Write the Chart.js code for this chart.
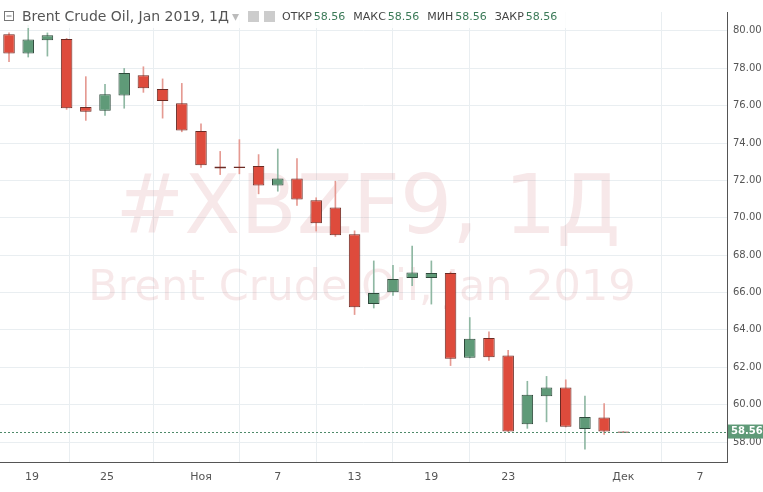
<!DOCTYPE html>
<html><head><meta charset="utf-8">
<script src="https://cdn.jsdelivr.net/npm/chart.js@4"></script>
<style>html,body{margin:0;padding:0;background:#fff}#w{width:763px;height:492px}</style>
</head><body><div id="w"><canvas id="c"></canvas></div>
<script>
const opens  = [79.82,78.79,79.50,79.57,75.93,75.72,76.54,77.62,76.89,76.13,74.64,72.74,72.74,72.77,71.73,72.10,70.94,70.55,69.12,65.38,66.01,66.77,66.77,67.04,62.51,63.57,62.63,58.95,60.45,60.92,58.70,59.31,58.56];
const highs  = [79.90,80.30,79.89,79.60,77.55,77.14,77.99,78.08,77.43,77.19,75.03,73.55,74.18,73.38,73.68,73.16,71.07,71.96,69.30,67.69,67.46,68.49,67.69,67.10,64.66,63.89,62.90,61.25,61.51,61.33,60.46,60.06,58.56];
const lows   = [78.35,78.60,78.65,75.80,75.21,75.47,75.86,76.71,75.33,74.60,72.69,72.31,72.35,71.28,71.42,70.66,69.29,69.00,64.82,65.17,65.85,66.36,65.38,62.09,62.50,62.37,58.56,58.73,59.08,58.80,57.61,58.41,58.56];
const closes = [78.79,79.54,79.77,75.86,75.67,76.61,77.75,76.93,76.25,74.67,72.81,72.63,72.66,71.73,72.10,70.98,69.70,69.06,65.21,65.97,66.72,67.07,67.04,62.46,63.52,62.54,58.56,60.53,60.92,58.82,59.34,58.56,58.56];
const tickIdx = [1.2,5.1,10,14,18,22,26,32,36];
const tickLabels = ['19','25','Ноя','7','13','19','23','Дек','7'];
const lastPrice = 58.56;

const RED='#de4b3c', GREEN='#5f9a78', BRED='#6b2b24', BGREEN='#2f4a3c';
const isUp = i => closes[i] > opens[i];
const bodies = opens.map((o,i)=>({x:i, y:[o, Math.abs(o-closes[i])<0.06 ? o-0.06 : closes[i]]}));
const wicks = opens.map((o,i)=>({x:i, y:[lows[i], highs[i]]}));

const overlay = {
  id:'overlay',
  beforeDatasetsDraw(ch){
    const ctx=ch.ctx;
    ctx.save();
    ctx.fillStyle='rgba(205,120,125,0.17)';
    ctx.textAlign='center'; ctx.textBaseline='middle';
    ctx.font='82px "DejaVu Sans", sans-serif';
    ctx.fillText('#XBZF9, 1Д', 368, 212);
    ctx.font='43px "DejaVu Sans", sans-serif';
    ctx.fillText('Brent Crude Oil, Jan 2019', 362, 289);
    ctx.restore();
  },
  afterDatasetsDraw(ch){
    const ctx=ch.ctx, a=ch.chartArea, y=ch.scales.y.getPixelForValue(lastPrice);
    ctx.save();
    ctx.strokeStyle='#4f8a6a'; ctx.setLineDash([2,2]); ctx.lineWidth=1;
    ctx.beginPath(); ctx.moveTo(a.left,Math.round(y)+0.5); ctx.lineTo(a.right,Math.round(y)+0.5); ctx.stroke();
    ctx.setLineDash([]);
    ctx.fillStyle='#5f9a78'; ctx.fillRect(a.right+1, y-7, 35, 14);
    ctx.fillStyle='#fff'; ctx.font='bold 10px "DejaVu Sans", sans-serif'; ctx.textBaseline='middle'; ctx.textAlign='left';
    ctx.fillText(lastPrice.toFixed(2), a.right+4, y);
    ctx.fillStyle='rgba(255,255,255,0.85)'; ctx.fillRect(0,4,575,24);
    ctx.strokeStyle='#777'; ctx.lineWidth=1; ctx.strokeRect(4.5,11.5,9,9);
    ctx.beginPath(); ctx.moveTo(6.5,16); ctx.lineTo(11.5,16); ctx.stroke();
    ctx.fillStyle='#555'; ctx.font='14px "DejaVu Sans", sans-serif';
    ctx.fillText('Brent Crude Oil, Jan 2019, 1Д', 22, 17);
    ctx.fillStyle='#bbb'; ctx.fillText('▾', 232, 17);
    ctx.fillStyle='#ccc'; ctx.fillRect(248,11,11,11); ctx.fillRect(264,11,11,11);
    let x=282; ctx.font='11px "DejaVu Sans", sans-serif';
    [['ОТКР','58.56'],['МАКС','58.56'],['МИН','58.56'],['ЗАКР','58.56']].forEach(([l,v])=>{
      ctx.fillStyle='#444'; ctx.fillText(l,x,17); x+=ctx.measureText(l).width+2;
      ctx.fillStyle='#3b7a58'; ctx.fillText(v,x,17); x+=ctx.measureText(v).width+8;
    });
    ctx.restore();
  }
};

new Chart(document.getElementById('c'),{
  type:'bar',
  data:{datasets:[
    {data:wicks, grouped:false, barThickness:1, backgroundColor:opens.map((o,i)=>isUp(i)?'#8fb8a3':'#e59a92'), borderWidth:0, order:2},
    {data:bodies, grouped:false, barPercentage:0.6, categoryPercentage:1, backgroundColor:opens.map((o,i)=>isUp(i)?GREEN:RED), borderColor:opens.map((o,i)=>isUp(i)?BGREEN:BRED), borderWidth:1, borderSkipped:false, order:1}
  ]},
  plugins:[overlay],
  options:{
    responsive:true, maintainAspectRatio:false, animation:false,
    layout:{padding:0},
    plugins:{legend:{display:false}, tooltip:{enabled:false}},
    scales:{
      x:{type:'linear', min:-0.47, max:37.4, offset:false,
        grid:{color:'#e9eef1', drawTicks:false},
        border:{color:'#555'},
        afterBuildTicks(s){ s.ticks = tickIdx.map(v=>({value:v})); },
        afterFit(s){ s.height=30; },
        ticks:{color:'#555', font:{size:11, family:'"DejaVu Sans", sans-serif'}, padding:9, maxRotation:0, autoSkip:false,
          callback:(v)=>{const k=tickIdx.indexOf(v); return k>=0?tickLabels[k]:'';}}
      },
      y:{position:'right', min:56.93, max:81.01,
        grid:{color:'#e9eef1', drawTicks:false},
        border:{color:'#555'},
        afterBuildTicks(s){ const t=[]; for(let v=58; v<=80; v+=2) t.push({value:v}); s.ticks=t; },
        afterFit(s){ s.width=36; },
        ticks:{color:'#555', font:{size:10, family:'"DejaVu Sans", sans-serif'}, padding:6, callback:v=>v.toFixed(2)}
      }
    }
  }
});
</script></body></html>
